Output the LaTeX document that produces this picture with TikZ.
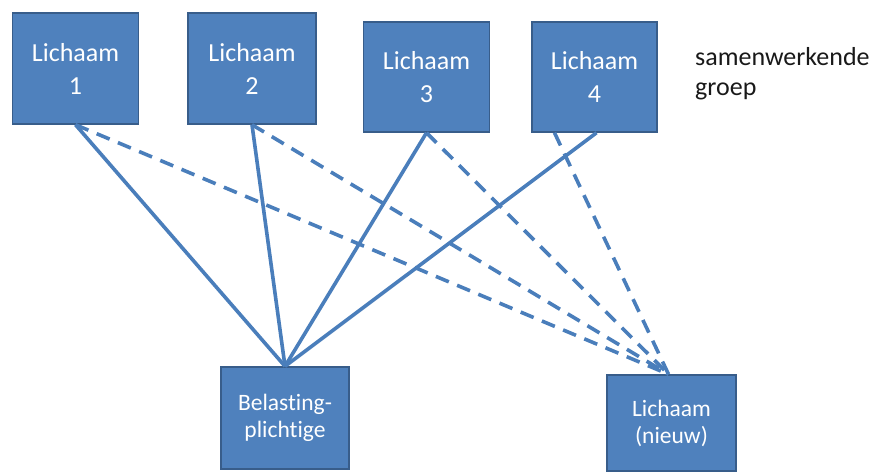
\documentclass[tikz,border=0pt]{standalone}
\usepackage{fontspec}
\setmainfont{Carlito}[Ligatures=NoCommon]
\definecolor{boxfill}{HTML}{4F81BD}
\definecolor{boxline}{HTML}{385D8A}
\definecolor{linkcol}{HTML}{4A7EBB}
\begin{document}
\begin{tikzpicture}[x=1pt,y=-1pt,
  topbox/.style={rectangle,fill=boxfill,draw=boxline,line width=1.5pt,
    minimum width=126pt,minimum height=110pt,inner sep=0pt,align=center,
    text=white,font=\fontsize{26}{33}\selectfont},
  botbox/.style={topbox,minimum width=128pt,font=\fontsize{23.5}{27}\selectfont},
  solidlink/.style={draw=linkcol,line width=3.6pt},
  dashlink/.style={draw=linkcol,line width=3.6pt,dash pattern=on 14pt off 9pt}]
\useasboundingbox (0,0) rectangle (874,472);
\node[topbox,minimum height=111pt] (b1) at (75.5,68.5) {Lichaam\\1};
\node[topbox,minimum height=111pt,minimum width=128pt] (b2) at (252,68.5) {Lichaam\\2};
\node[topbox] (b3) at (426.5,77) {Lichaam\\3};
\node[topbox,minimum width=125pt] (b4) at (594.5,77) {Lichaam\\4};
\node[botbox,minimum height=102pt] (bel) at (285,418) {Belasting-\\plichtige};
\node[botbox,minimum height=96pt,minimum width=129pt] (new) at (671.5,423) {Lichaam\\(nieuw)};
\node[anchor=west,align=left,inner sep=0pt,text=black!90,font=\fontsize{26}{30}\selectfont] (lbl) at (695,74) {samenwerkende\\groep};
% solid connectors
\draw[solidlink] (b1.south) -- (bel.north);
\draw[solidlink] (b2.south) -- (bel.north);
\draw[solidlink] (b3.south) -- (bel.north);
\draw[solidlink] ([xshift=2pt]b4.south) -- (bel.north);
% dashed connectors
\draw[dashlink] (b1.south) -- ([xshift=-3pt]new.north);
\draw[dashlink] (b2.south) -- ([xshift=-3pt]new.north);
\draw[dashlink] (b3.south) -- ([xshift=-3pt]new.north);
\draw[dashlink] ([xshift=-40pt]b4.south) -- ([xshift=-3pt]new.north);
\end{tikzpicture}
\end{document}
